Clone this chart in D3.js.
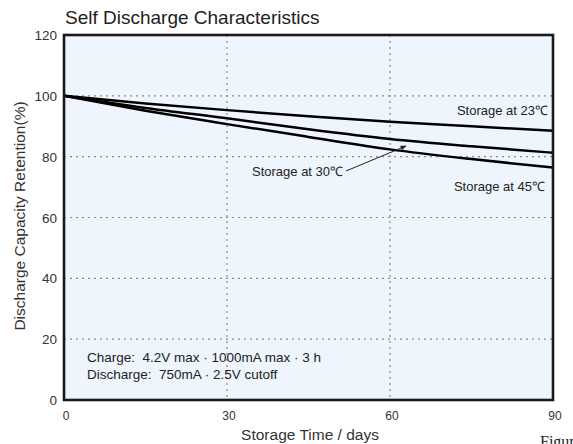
<!DOCTYPE html>
<html><head><meta charset="utf-8">
<script src="https://cdn.jsdelivr.net/npm/d3@7"></script>
<style>body{margin:0;background:#fff}svg{display:block}</style>
</head><body>
<svg id="c" width="573" height="444"></svg>
<script>
const days = [0, 15, 30, 45, 60, 75, 90];
const s23 = [100, 97.5, 95.3, 93.3, 91.5, 90.0, 88.5];
const s30 = [100, 96.0, 92.6, 89.0, 85.8, 83.4, 81.3];
const s45 = [100, 95.1, 90.7, 86.5, 82.4, 79.2, 76.4];
const xTicks = [0, 30, 60, 90];
const yTicks = [0, 20, 40, 60, 80, 100, 120];
const seriesNames = ["Storage at 23\u2103", "Storage at 30\u2103", "Storage at 45\u2103"];

const svg = d3.select("#c");
const L = 64, R = 553, T = 35, B = 400;
const x = d3.scaleLinear().domain([0, 90]).range([L, R]);
const y = d3.scaleLinear().domain([0, 120]).range([B, T]);
const font = "'Liberation Sans', Arial, sans-serif";

svg.append("rect").attr("x", L).attr("y", T).attr("width", R - L).attr("height", B - T)
  .attr("fill", "#eef5fc");

// grid
svg.append("g").selectAll("line").data(yTicks.filter(d => d > 0 && d < 120)).join("line")
  .attr("x1", L).attr("x2", R).attr("y1", d => y(d)).attr("y2", d => y(d))
  .attr("stroke", "#8a8a8a").attr("stroke-width", 1.2).attr("stroke-dasharray", "2,4");
svg.append("g").selectAll("line").data(xTicks.filter(d => d > 0 && d < 90)).join("line")
  .attr("y1", T).attr("y2", B).attr("x1", d => x(d)).attr("x2", d => x(d))
  .attr("stroke", "#8a8a8a").attr("stroke-width", 1.2).attr("stroke-dasharray", "2,4");

// curves
const line = d3.line().x((d, i) => x(days[i])).y(d => y(d)).curve(d3.curveMonotoneX);
[s23, s30, s45].forEach(s => {
  svg.append("path").attr("d", line(s)).attr("fill", "none")
    .attr("stroke", "#000").attr("stroke-width", 2.5);
});

// border
svg.append("rect").attr("x", L).attr("y", T).attr("width", R - L).attr("height", B - T)
  .attr("fill", "none").attr("stroke", "#1a1a1a").attr("stroke-width", 2.6);

// y tick labels
svg.append("g").selectAll("text").data(yTicks).join("text")
  .attr("x", 57).attr("y", d => y(d) + 5).attr("text-anchor", "end")
  .attr("font-family", font).attr("font-size", 13.5).attr("fill", "#333")
  .text(d => d);
// x tick labels
svg.append("g").selectAll("text").data(xTicks).join("text")
  .attr("x", d => x(d) + 2).attr("y", 420).attr("text-anchor", "middle")
  .attr("font-family", font).attr("font-size", 12).attr("fill", "#333")
  .text(d => d);

// titles
svg.append("text").attr("x", 65).attr("y", 24).attr("font-family", font)
  .attr("font-size", 19).attr("fill", "#222").text("Self Discharge Characteristics");
svg.append("text").attr("x", 310).attr("y", 440).attr("text-anchor", "middle")
  .attr("font-family", font).attr("font-size", 15.5).attr("fill", "#333").text("Storage Time / days");
svg.append("text").attr("transform", "translate(25,216) rotate(-90)").attr("text-anchor", "middle")
  .attr("font-family", font).attr("font-size", 15.5).attr("fill", "#333")
  .text("Discharge Capacity Retention(%)");

// series labels
const lab = (t, xx, yy, anchor) => svg.append("text").attr("x", xx).attr("y", yy)
  .attr("text-anchor", anchor).attr("font-family", font).attr("font-size", 13)
  .attr("fill", "#222").text(t);
lab(seriesNames[0], 548, 115, "end");
lab(seriesNames[1], 252, 176, "start");
lab(seriesNames[2], 545, 191, "end");

// arrow
svg.append("defs").append("marker").attr("id", "ah").attr("viewBox", "0 0 10 10")
  .attr("refX", 9).attr("refY", 5).attr("markerWidth", 8).attr("markerHeight", 6)
  .attr("orient", "auto").append("path").attr("d", "M0,1 L10,5 L0,9 Z").attr("fill", "#222");
svg.append("line").attr("x1", 346).attr("y1", 171).attr("x2", 406).attr("y2", 146)
  .attr("stroke", "#222").attr("stroke-width", 1).attr("marker-end", "url(#ah)");

// note
svg.append("text").attr("x", 87).attr("y", 362).attr("font-family", font).attr("font-size", 13.5)
  .attr("fill", "#222").attr("xml:space", "preserve").text("Charge:  4.2V max \u00b7 1000mA max \u00b7 3 h");
svg.append("text").attr("x", 87).attr("y", 379).attr("font-family", font).attr("font-size", 13.5)
  .attr("fill", "#222").attr("xml:space", "preserve").text("Discharge:  750mA \u00b7 2.5V cutoff");

// clipped caption (cut off at the edge, as in the reference)
svg.append("text").attr("x", 540).attr("y", 447).attr("font-family", "'Liberation Serif', 'Times New Roman', serif")
  .attr("font-size", 16).attr("fill", "#222").text("Figure");
</script>
</body></html>
